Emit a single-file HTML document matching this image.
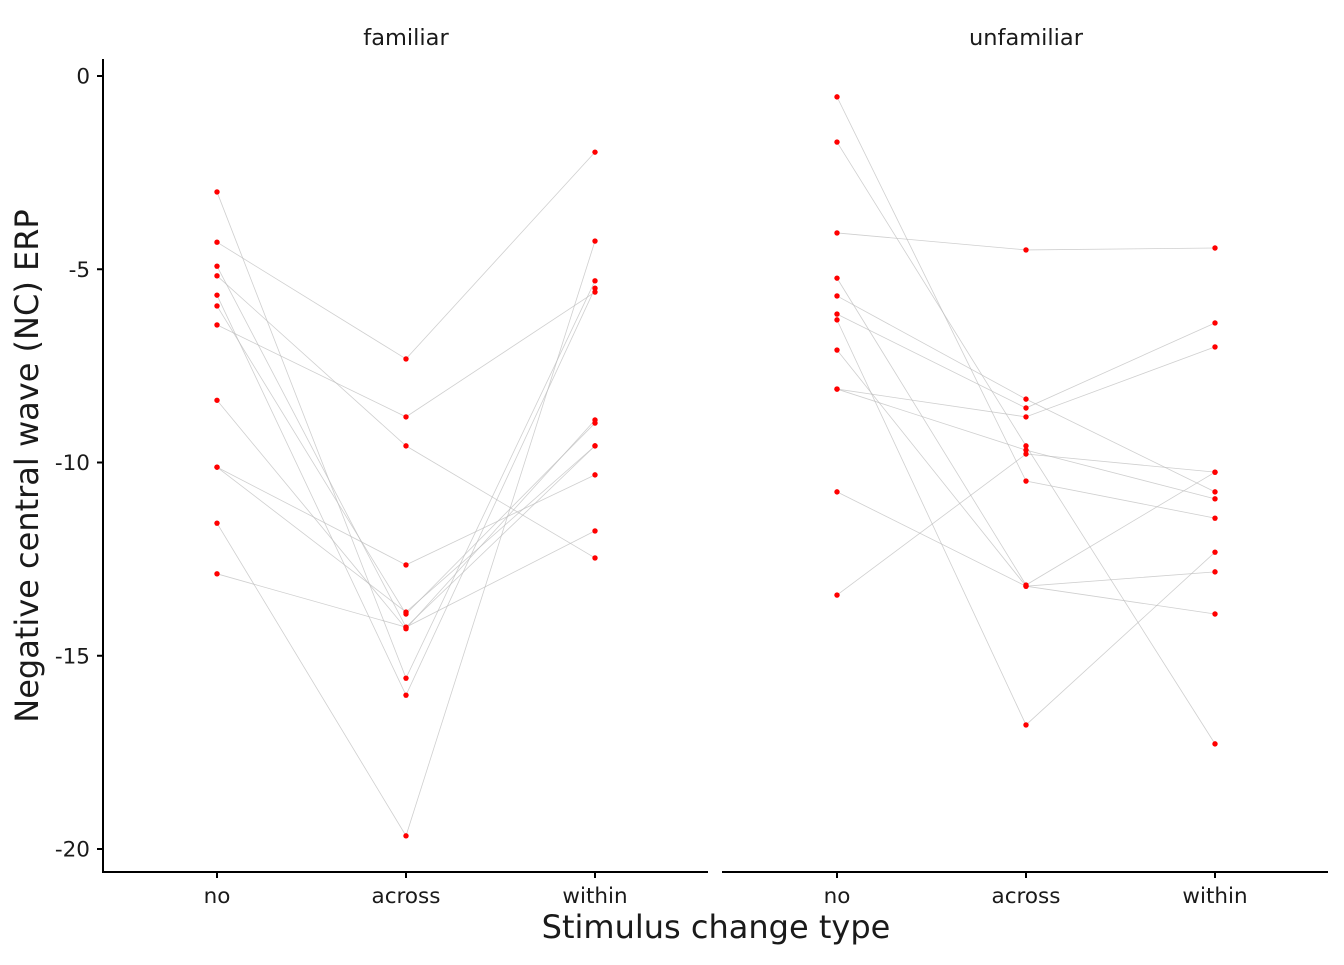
<!DOCTYPE html>
<html><head><meta charset="utf-8"><style>body{margin:0;background:#fff}svg text{font-family:"DejaVu Sans","Liberation Sans",sans-serif;fill:#1a1a1a}</style></head>
<body>
<svg id="chart" width="1344" height="960" xmlns="http://www.w3.org/2000/svg">
<text x="406" y="45" font-size="22.5" text-anchor="middle">familiar</text>
<text x="1026" y="45" font-size="22.5" text-anchor="middle">unfamiliar</text>
<line x1="103" y1="59" x2="103" y2="873" stroke="#000" stroke-width="2"/>
<line x1="102" y1="872" x2="708" y2="872" stroke="#000" stroke-width="2"/>
<line x1="722" y1="872" x2="1328" y2="872" stroke="#000" stroke-width="2"/>
<g id="yticks"></g><g id="xticks"></g><g id="lines"></g><g id="pts"></g>
<text x="716" y="938" font-size="32" text-anchor="middle">Stimulus change type</text>
<text x="0" y="0" font-size="32" text-anchor="middle" transform="translate(38,466) rotate(-90)">Negative central wave (NC) ERP</text>
</svg>
<script>
const categories=["no","across","within"];
const panels=["familiar","unfamiliar"];
const yTicks=[0,-5,-10,-15,-20];
const familiarNo=[-3.0,-4.3,-4.92,-5.17,-5.67,-5.95,-6.44,-8.39,-10.12,-10.12,-11.57,-12.88];
const familiarAcross=[-15.58,-7.32,-14.26,-9.57,-16.02,-13.92,-8.82,-14.3,-12.65,-13.87,-19.66,-14.26];
const familiarWithin=[-5.30,-1.97,-9.57,-12.47,-5.49,-8.98,-5.59,-8.9,-10.32,-9.57,-4.27,-11.77];
const unfamiliarNo=[-0.54,-1.71,-4.06,-5.23,-5.69,-6.16,-6.31,-7.09,-8.1,-8.1,-10.76,-13.43];
const unfamiliarAcross=[-10.48,-9.57,-4.5,-13.17,-8.36,-8.59,-16.79,-13.2,-8.82,-9.68,-13.2,-9.78];
const unfamiliarWithin=[-11.44,-17.28,-4.45,-10.25,-10.76,-6.39,-12.32,-12.83,-7.01,-10.94,-13.92,-10.25];
const NS="http://www.w3.org/2000/svg";
function y(v){return 76+(-v)*38.65;}
function x(p,c){return [217,837][p]+c*189;}
function mk(t,a,parent){const e=document.createElementNS(NS,t);for(const k in a)e.setAttribute(k,a[k]);document.getElementById(parent).appendChild(e);return e;}
yTicks.forEach(v=>{
 const l=mk("line",{x1:97,x2:103,y1:y(v),y2:y(v),stroke:"#000","stroke-width":2},"yticks");
 
 
 const t=mk("text",{x:90,y:y(v)+7.5,"font-size":21.5,"text-anchor":"end"},"yticks");
 t.textContent=v;
 
 
});
panels.forEach((p,pi)=>categories.forEach((c,ci)=>{
 const l=mk("line",{x1:x(pi,ci),x2:x(pi,ci),y1:872,y2:878,stroke:"#000","stroke-width":2},"xticks");
 
 
 const t=mk("text",{x:x(pi,ci),y:903,"font-size":21.5,"text-anchor":"middle"},"xticks");
 t.textContent=c;
 
 
}));
const series=[[familiarNo,familiarAcross,familiarWithin],[unfamiliarNo,unfamiliarAcross,unfamiliarWithin]];
series.forEach((s,pi)=>{
 for(let i=0;i<s[0].length;i++){
  const pts=s.map((arr,ci)=>x(pi,ci)+","+y(arr[i])).join(" ");
  const pl=mk("polyline",{points:pts,fill:"none",stroke:"#bbb","stroke-width":0.8,"stroke-opacity":0.7},"lines");
  
  
  s.forEach((arr,ci)=>{
   const c=mk("circle",{cx:x(pi,ci),cy:y(arr[i]),r:2.7,fill:"#ff0000"},"pts");
   
   
  });
 }
});
</script>
</body></html>
